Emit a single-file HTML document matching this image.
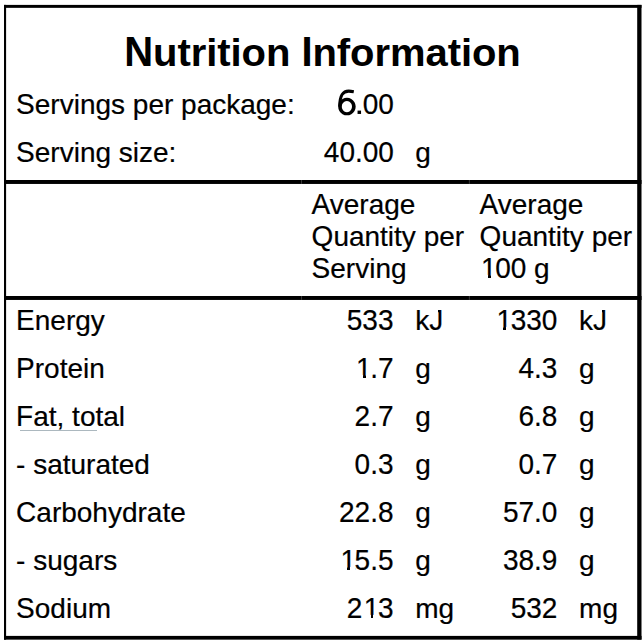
<!DOCTYPE html>
<html><head><meta charset="utf-8"><title>Nutrition Information</title>
<style>
html,body{margin:0;padding:0;background:#fff;}
body{width:644px;height:643px;position:relative;overflow:hidden;font-family:"Liberation Sans",sans-serif;color:#000;}
.t{position:absolute;white-space:nowrap;font-size:28px;line-height:32px;-webkit-text-stroke:0.2px #000;}
.r{text-align:right;}
.c{display:inline-block;transform:scaleY(1.035);transform-origin:0 25px;}
.one{display:inline-block;position:relative;left:1.4px;}
.one::before,.one::after{content:"";position:absolute;background:#fff;top:21.7px;height:3.7px;}
.one::before{left:0.8px;width:6.1px;}
.one::after{left:9.65px;width:5.25px;}
.jay{display:inline-block;position:relative;}
.jay::before{content:"";position:absolute;background:#fff;left:4.6px;width:4.5px;top:4.9px;height:4.1px;}
.ln{position:absolute;background:#000;}
#title{position:absolute;left:0;width:645px;text-align:center;top:30px;font-weight:bold;font-size:40px;line-height:44px;white-space:nowrap;letter-spacing:-0.06px;}
#title span{display:inline-block;transform-origin:0 36px;}
#title .u{transform:scaleY(1.045);}
#title .l{transform:scaleY(0.98);}
</style></head><body>

<svg style="position:absolute;left:0;top:0" width="644" height="643" viewBox="0 0 644 643">
<g fill="#000">
<rect x="4" y="4.9" width="637.5" height="2.95"/>
<rect x="4" y="4.9" width="2.1" height="634.75"/>
<rect x="637.2" y="4.9" width="4.3" height="634.75"/>
<rect x="4" y="635.9" width="637.5" height="3.75"/>
<rect x="4" y="180" width="637.5" height="3.95"/>
<rect x="4" y="296" width="637.5" height="3.95"/>
</g>
<g fill="#444">
<rect x="301.2" y="180" width="0.8" height="3.95"/><rect x="468.9" y="180" width="0.8" height="3.95"/>
<rect x="301.2" y="296" width="0.8" height="3.95"/><rect x="468.9" y="296" width="0.8" height="3.95"/>
</g>
<rect x="20" y="430.1" width="77" height="0.9" fill="#a3b0b8"/>
</svg>
<div id="title"><span class="u">N</span><span class="l">utrition</span> <span class="u">I</span><span class="l">nformation</span></div>
<div class="t" style="left:16.1px;top:89px;"><span class="c">S</span>ervings per package:</div>
<div class="t" style="left:16.1px;top:137px;"><span class="c">S</span>erving size:</div>
<div class="t r" style="right:250.1px;top:89px;"><span class="c">00</span></div>
<div class="t r" style="right:250.1px;top:137px;"><span class="c">40.00</span></div>
<div class="t" style="left:415.3px;top:137px;">g</div>
<svg style="position:absolute;left:332px;top:86px" width="32" height="32" viewBox="332 86 32 32">
<path fill="#000" fill-rule="evenodd" d="M346.93,97.8 a8.75,8.75 0 1 0 0.01,0 Z M346.9,100.95 a5.1,5.6 0 1 1 -0.01,0 Z"/>
<path fill="none" stroke="#000" stroke-width="3.2" stroke-linecap="butt" d="M353.8,91.7 C352,91.35 350.5,91.1 348.7,91.1 C342.6,91.1 339.8,95.0 339.8,106.5"/>
<rect x="357.55" y="110.6" width="3.5" height="3.35" fill="#000"/>
</svg>
<div class="t" style="left:311.6px;top:189px;"><span class="c" style="margin-right:-0.52px">A</span>verage</div>
<div class="t" style="left:311.6px;top:221px;"><span class="c">Q</span>uantity per</div>
<div class="t" style="left:311.6px;top:253px;"><span class="c">S</span>erving</div>
<div class="t" style="left:479.6px;top:189px;"><span class="c" style="margin-right:-0.52px">A</span>verage</div>
<div class="t" style="left:479.6px;top:221px;"><span class="c">Q</span>uantity per</div>
<div class="t" style="left:479.6px;top:253px;"><span class="c"><span class="one">1</span>00</span> g</div>
<div class="t" style="left:16.1px;top:305px;"><span class="c">E</span>nergy</div>
<div class="t r" style="right:250.5px;top:305px;"><span class="c">533</span></div>
<div class="t" style="left:415.3px;top:305px;">k<span class="c"><span class="jay">J</span></span></div>
<div class="t r" style="right:86.6px;top:305px;"><span class="c"><span class="one">1</span>330</span></div>
<div class="t" style="left:579.1px;top:305px;">k<span class="c"><span class="jay">J</span></span></div>
<div class="t" style="left:16.1px;top:353px;"><span class="c">P</span>rotein</div>
<div class="t r" style="right:250.5px;top:353px;"><span class="c"><span class="one">1</span>.7</span></div>
<div class="t" style="left:415.3px;top:353px;">g</div>
<div class="t r" style="right:86.6px;top:353px;"><span class="c">4.3</span></div>
<div class="t" style="left:579.1px;top:353px;">g</div>
<div class="t" style="left:16.1px;top:401px;"><span class="c">F</span>at, total</div>
<div class="t r" style="right:250.5px;top:401px;"><span class="c">2.7</span></div>
<div class="t" style="left:415.3px;top:401px;">g</div>
<div class="t r" style="right:86.6px;top:401px;"><span class="c">6.8</span></div>
<div class="t" style="left:579.1px;top:401px;">g</div>
<div class="t" style="left:16.1px;top:449px;">- saturated</div>
<div class="t r" style="right:250.5px;top:449px;"><span class="c">0.3</span></div>
<div class="t" style="left:415.3px;top:449px;">g</div>
<div class="t r" style="right:86.6px;top:449px;"><span class="c">0.7</span></div>
<div class="t" style="left:579.1px;top:449px;">g</div>
<div class="t" style="left:16.1px;top:497px;"><span class="c">C</span>arbohydrate</div>
<div class="t r" style="right:250.5px;top:497px;"><span class="c">22.8</span></div>
<div class="t" style="left:415.3px;top:497px;">g</div>
<div class="t r" style="right:86.6px;top:497px;"><span class="c">57.0</span></div>
<div class="t" style="left:579.1px;top:497px;">g</div>
<div class="t" style="left:16.1px;top:545px;">- sugars</div>
<div class="t r" style="right:250.5px;top:545px;"><span class="c"><span class="one">1</span>5.5</span></div>
<div class="t" style="left:415.3px;top:545px;">g</div>
<div class="t r" style="right:86.6px;top:545px;"><span class="c">38.9</span></div>
<div class="t" style="left:579.1px;top:545px;">g</div>
<div class="t" style="left:16.1px;top:593px;"><span class="c">S</span>odium</div>
<div class="t r" style="right:250.5px;top:593px;"><span class="c">2<span class="one">1</span>3</span></div>
<div class="t" style="left:415.3px;top:593px;">mg</div>
<div class="t r" style="right:86.6px;top:593px;"><span class="c">532</span></div>
<div class="t" style="left:579.1px;top:593px;">mg</div>
</body></html>
